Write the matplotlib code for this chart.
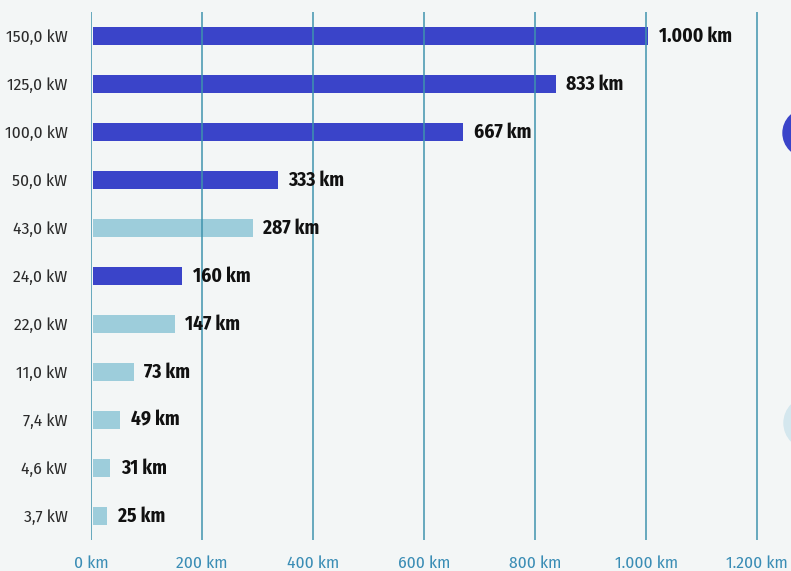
import matplotlib
matplotlib.use('Agg')
import matplotlib.pyplot as plt
from matplotlib.patches import Ellipse

# charging power and range gained per hour of charging
power_labels = ['150,0 kW', '125,0 kW', '100,0 kW', '50,0 kW', '43,0 kW', '24,0 kW',
                '22,0 kW', '11,0 kW', '7,4 kW', '4,6 kW', '3,7 kW']
range_km = [1000, 833, 667, 333, 287, 160, 147, 73, 49, 31, 25]
range_labels = ['1.000 km', '833 km', '667 km', '333 km', '287 km', '160 km',
                '147 km', '73 km', '49 km', '31 km', '25 km']
is_dc = [True, True, True, True, False, True, False, False, False, False, False]

x_ticks = [0, 200, 400, 600, 800, 1000, 1200]
x_tick_labels = ['0 km', '200 km', '400 km', '600 km', '800 km', '1.000 km', '1.200 km']

DARK = '#3a44c9'
LIGHT = '#9dcddb'
GRID = '#3f93ad'
BG = '#f3f6f6'

plt.rcParams['font.family'] = ['Fira Sans Condensed', 'DejaVu Sans']

fig = plt.figure(figsize=(7.91, 5.71), dpi=100)
fig.patch.set_facecolor(BG)
ax = fig.add_axes([91 / 791, 31 / 571, 1 - 91 / 791, 528 / 571])
ax.set_facecolor(BG)

ypos = list(range(len(power_labels)))
colors = [DARK if d else LIGHT for d in is_dc]
ax.barh(ypos, range_km, height=0.36, left=4, color=colors, zorder=2)

for y, v, lab in zip(ypos, range_km, range_labels):
    ax.text(v + 4 + 19, y, lab, va='center', ha='left', fontsize=14,
            fontweight='bold', color='#111111', zorder=4)

for x in x_ticks:
    ax.axvline(x, color=GRID, lw=1.1, zorder=3)

ax.set_xlim(0, 1261)
ax.set_ylim(len(power_labels) - 0.5, -0.5)
ax.set_yticks(ypos)
ax.set_yticklabels(power_labels, fontsize=12.5, color='#2b2b2b', fontweight='normal')
ax.set_xticks(x_ticks)
ax.set_xticklabels(x_tick_labels, fontsize=12.5, color='#3a8db5', fontweight='normal')
ax.tick_params(axis='both', length=0)
ax.tick_params(axis='y', pad=17)
ax.tick_params(axis='x', pad=11)
for s in ax.spines.values():
    s.set_visible(False)

# legend dots cut off at the right edge
fig.patches.append(Ellipse((807 / 791, 1 - 133 / 571), 48 / 791, 48 / 571,
                           transform=fig.transFigure, color=DARK))
fig.patches.append(Ellipse((810 / 791, 1 - 423 / 571), 52 / 791, 52 / 571,
                           transform=fig.transFigure, color='#d4e7ee'))

fig.savefig('out.png', dpi=100, facecolor=BG)
